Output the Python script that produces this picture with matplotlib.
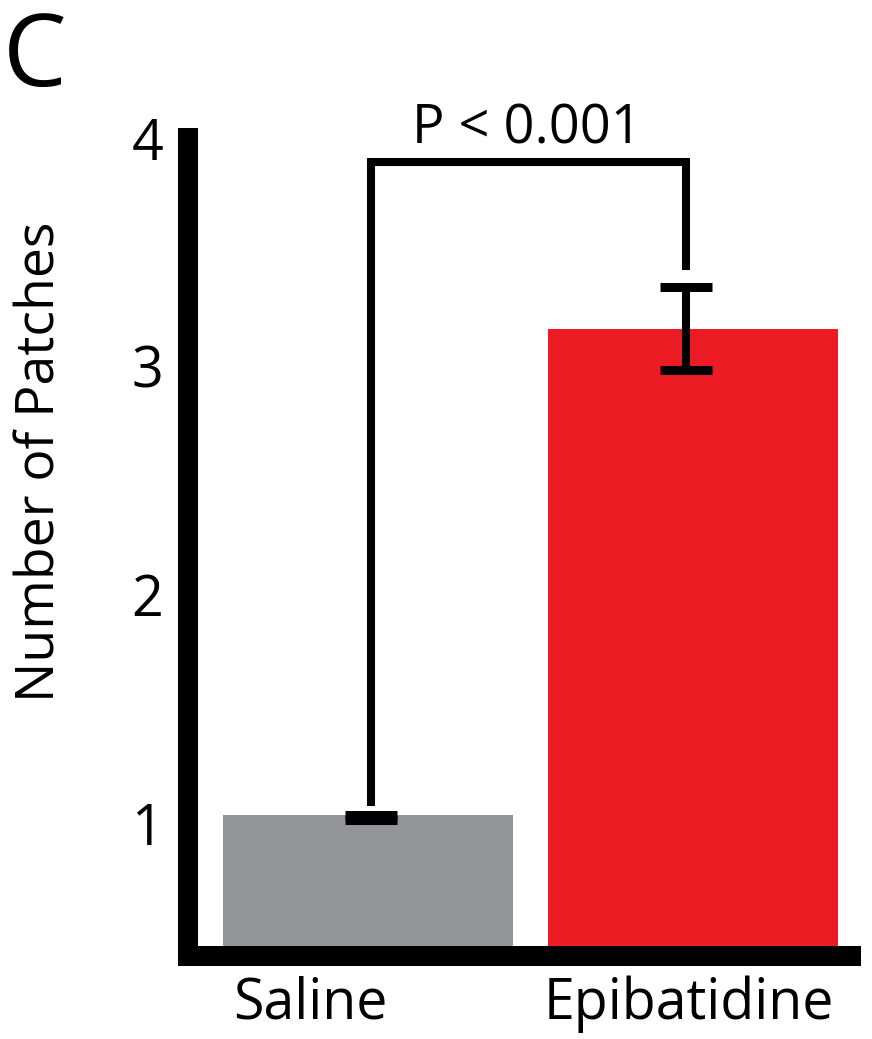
import matplotlib.pyplot as plt

groups = ['Saline', 'Epibatidine']
means = [1.035, 3.166]
err_low = [0.018, 0.18]
err_high = [0.0, 0.18]
err_x = [0.01, 0.977]
label_x = [-0.178, 0.988]
bracket_y = [1.092, 3.894, 3.439]
p_text = 'P < 0.001'
colors = ['#939598', '#ED1C24']

plt.rcParams['font.family'] = ['Open Sans', 'DejaVu Sans']

fig = plt.figure(figsize=(8.72, 10.39), dpi=100)
ax = fig.add_axes([188/872, 1 - 956/1039, (851-188)/872, (956-138)/1039])

xs = list(range(len(groups)))
ax.bar(xs, means, width=0.895, color=colors, bottom=0)
ax.errorbar(err_x, means, yerr=[err_low, err_high], fmt='none', ecolor='black',
            elinewidth=5.8, capsize=18.4, capthick=6.5)

# significance bracket
ax.plot([err_x[0], err_x[0], err_x[1], err_x[1]],
        [bracket_y[0], bracket_y[1], bracket_y[1], bracket_y[2]],
        color='black', lw=5.8, solid_joinstyle='miter', clip_on=False)
ax.text(0.49, 3.978, p_text, ha='center', va='baseline', fontsize=39)

ax.set_xlim(-0.554, 1.486)
ax.set_ylim(0.42, 4.0)
ax.set_yticks([1, 2, 3, 4])
ax.set_xticks(label_x)
ax.set_xticklabels(groups)
ax.tick_params(axis='both', length=0, labelsize=40)
ax.tick_params(axis='y', pad=18)
ax.tick_params(axis='x', pad=14)

for s in ['top', 'right']:
    ax.spines[s].set_visible(False)
for s in ['left', 'bottom']:
    ax.spines[s].set_linewidth(14.4)
    ax.spines[s].set_capstyle('projecting')

fig.text(41/872, 1 - 462/1039, 'Number of Patches', rotation=90, ha='center', va='center', fontsize=38.5)
fig.text(3/872, 1 - 60/1039, 'C', ha='left', va='center', fontsize=73)

fig.savefig('out.png', dpi=100)
